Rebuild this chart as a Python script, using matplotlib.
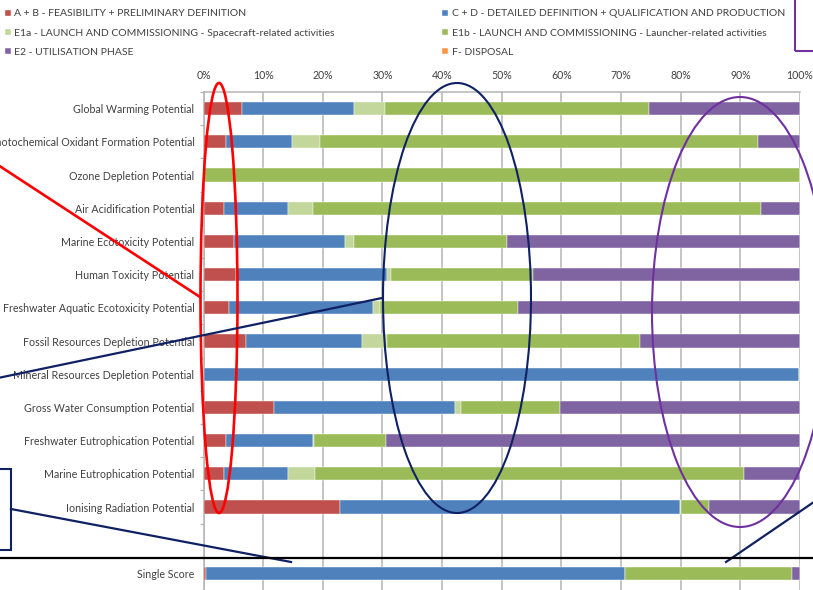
import matplotlib
matplotlib.use("Agg")
import matplotlib.pyplot as plt
from matplotlib.patches import Ellipse, Rectangle
from matplotlib.lines import Line2D
import numpy as np

W, H = 813, 590

categories = [
    "Global Warming Potential",
    "Photochemical Oxidant Formation Potential",
    "Ozone Depletion Potential",
    "Air Acidification Potential",
    "Marine Ecotoxicity Potential",
    "Human Toxicity Potential",
    "Freshwater Aquatic Ecotoxicity Potential",
    "Fossil Resources Depletion Potential",
    "Mineral Resources Depletion Potential",
    "Gross Water Consumption Potential",
    "Freshwater Eutrophication Potential",
    "Marine Eutrophication Potential",
    "Ionising Radiation Potential",
    "Single Score",
]

phases = [
    "A + B - FEASIBILITY + PRELIMINARY DEFINITION",
    "C + D - DETAILED DEFINITION + QUALIFICATION AND PRODUCTION",
    "E1a - LAUNCH AND COMMISSIONING - Spacecraft-related activities",
    "E1b - LAUNCH AND COMMISSIONING - Launcher-related activities",
    "E2 - UTILISATION PHASE",
    "F- DISPOSAL",
]

# share of each phase (%), one value per category
ab = [6.5, 3.7, 0.0, 3.4, 5.1, 5.4, 4.3, 7.1, 0.0, 11.8, 3.7, 3.4, 22.8, 0.4]
cd = [18.8, 11.2, 0.0, 10.8, 18.7, 25.3, 24.1, 19.5, 99.8, 30.4, 14.6, 10.7, 57.0, 70.3]
e1a = [5.2, 4.7, 0.0, 4.2, 1.4, 0.8, 1.2, 4.1, 0.0, 1.0, 0.3, 4.6, 0.3, 0.0]
e1b = [44.2, 73.4, 100.0, 75.1, 25.7, 23.8, 23.2, 42.5, 0.2, 16.6, 12.0, 71.9, 4.6, 28.0]
e2 = [25.3, 7.0, 0.0, 6.5, 49.1, 44.7, 47.2, 26.8, 0.0, 40.2, 69.4, 9.4, 15.3, 1.3]
f = [0.0] * 14

colors = ["#C0504D", "#4F81BD", "#C3D69B", "#9BBB59", "#8064A2", "#F79646"]

FONT = ["Lato", "DejaVu Sans"]
plt.rcParams["font.family"] = FONT
TXT = "#404040"
GRID = "#B4B4B4"


def px(x, y):
    return x / W, 1 - y / H


def main():
    fig = plt.figure(figsize=(W / 100, H / 100), dpi=100)
    ax = fig.add_axes([203.5 / W, 0.0, (800 - 203.5) / W, (590 - 92) / H])
    bars = plot_data(ax)
    set_properties(ax)
    add_legend(fig, bars)
    add_annotations(fig)
    fig.savefig("out.png", dpi=100)


def plot_data(ax):
    ypos = list(range(13)) + [14]
    left = np.zeros(len(categories))
    bars = []
    for vals, name, c in zip([ab, cd, e1a, e1b, e2, f], phases, colors):
        b = ax.barh(ypos, vals, left=left, height=0.4, color=c, label=name,
                    edgecolor="white", linewidth=0.3, zorder=3)
        left += np.array(vals)
        bars.append(b)
    ax.set_yticks(ypos)
    ax.set_yticklabels(categories)
    return bars


def set_properties(ax):
    ax.set_xlim(0, 100)
    ax.set_ylim(14.5, -0.5)
    ax.xaxis.tick_top()
    ax.set_xticks(range(0, 101, 10))
    ax.set_xticklabels([f"{v}%" for v in range(0, 101, 10)])
    ax.tick_params(axis="x", length=0, pad=8, labelsize=7.6, labelcolor=TXT)
    ax.tick_params(axis="y", which="major", length=0, pad=6.5, labelsize=7.7,
                   labelcolor=TXT)
    ax.set_yticks(np.arange(-0.5, 14.6, 1), minor=True)
    ax.tick_params(axis="y", which="minor", length=3, width=0.9, color=GRID)
    ax.grid(axis="x", color=GRID, linewidth=1.1, zorder=0)
    ax.set_axisbelow(True)
    for s in ["right", "bottom"]:
        ax.spines[s].set_visible(False)
    ax.spines["left"].set_color(GRID)
    ax.spines["left"].set_linewidth(1.1)
    ax.spines["top"].set_color(GRID)
    ax.spines["top"].set_linewidth(1.1)
    ax.patch.set_alpha(0)


def add_legend(fig, bars):
    order = [0, 2, 4, 1, 3, 5]
    handles = [bars[i] for i in order]
    labels = [phases[i] for i in order]
    fig.legend(handles, labels, ncol=2, loc="upper left",
               bbox_to_anchor=px(5, 9.5), frameon=False, fontsize=7.5,
               labelcolor=TXT, handlelength=0.55, handleheight=0.55,
               handletextpad=0.35, columnspacing=10.3, labelspacing=0.98,
               borderaxespad=0, borderpad=0)


def add_annotations(fig):
    red, navy, purple = "#FF0000", "#0F2163", "#7030A0"

    def ell(cx, cy, w, h, c, lw):
        x, y = px(cx, cy)
        fig.add_artist(Ellipse((x, y), w / W, h / H, fill=False, edgecolor=c,
                               linewidth=lw, transform=fig.transFigure, zorder=10))

    def line(p0, p1, c, lw):
        x0, y0 = px(*p0)
        x1, y1 = px(*p1)
        fig.add_artist(Line2D([x0, x1], [y0, y1], color=c, linewidth=lw,
                              transform=fig.transFigure, zorder=10))

    ell(219, 298, 37, 430, red, 1.9)
    ell(457, 298, 148, 430, navy, 1.5)
    ell(740, 312, 176, 430, purple, 1.5)

    line((-2, 165), (200, 297), red, 1.9)
    line((-2, 378), (382, 298), navy, 1.6)
    line((11, 509), (291, 562), navy, 1.6)
    line((726, 562), (830, 491), navy, 1.6)

    x0, y0 = px(-20, 550)
    fig.add_artist(Rectangle((x0, y0), 31 / W, 81 / H, fill=False,
                             edgecolor=navy, linewidth=1.5,
                             transform=fig.transFigure, zorder=10))
    x0, y0 = px(795, 51)
    fig.add_artist(Rectangle((x0, y0), 40 / W, 60 / H, fill=False,
                             edgecolor=purple, linewidth=1.5,
                             transform=fig.transFigure, zorder=10))

    line((-2, 558), (815, 558), "black", 1.6)


if __name__ == "__main__":
    main()
